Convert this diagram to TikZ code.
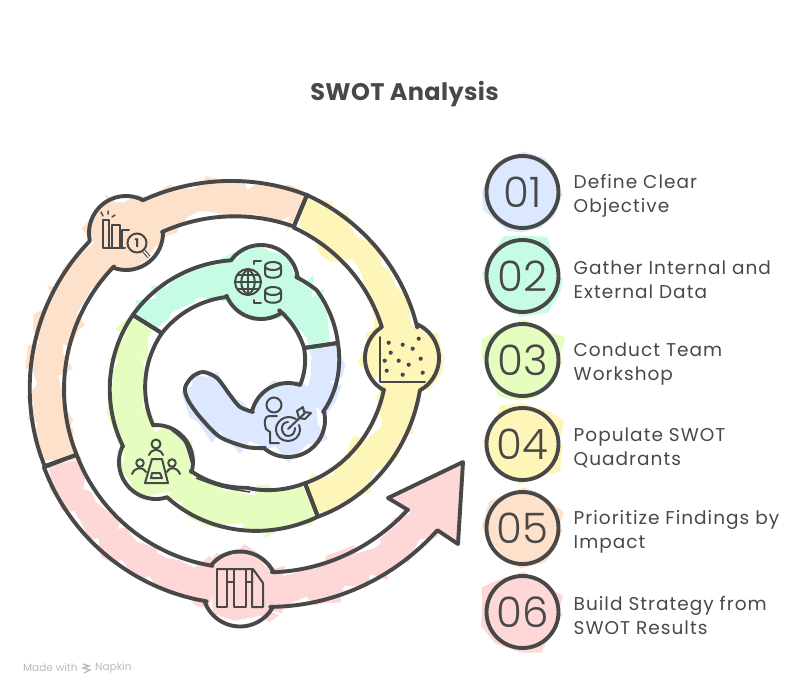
\documentclass[tikz,border=0pt]{standalone}
\usepackage{fontspec}
\setmainfont{Poppins}
\newfontfamily\numfont{Poppins Light}
\newfontfamily\stepfont[LetterSpace=5.5]{Poppins}
\newfontfamily\titlefont[LetterSpace=1.5]{Poppins Bold}
\usetikzlibrary{positioning,decorations.pathmorphing}

\definecolor{ink}{HTML}{484848}
\definecolor{skyfill}{HTML}{DCE8FF}
\definecolor{mintfill}{HTML}{C6FCE4}
\definecolor{limefill}{HTML}{E5FDBE}
\definecolor{sunfill}{HTML}{FEF6B9}
\definecolor{peachfill}{HTML}{FEE1CA}
\definecolor{rosefill}{HTML}{FED7D7}

% centre x, centre y, start angle, end angle, start radius, end radius
\newcommand{\cleanturn}[6]{-- plot[smooth, domain=#3:#4, samples=18] ({#1+(#5+(#6-#5)*(\x-#3)/(#4-#3))*cos(\x)},{#2-(#5+(#6-#5)*(\x-#3)/(#4-#3))*sin(\x)})}
\newcommand{\roughturn}[6]{-- plot[domain=#3:#4, samples={max(3,int(abs(#4-#3)*#5*0.0175/10))}] ({#1+(#5+(#6-#5)*(\x-#3)/(#4-#3))*cos(\x)+8.5*rand},{#2-(#5+(#6-#5)*(\x-#3)/(#4-#3))*sin(\x)+8.5*rand})}
\newcommand{\cleantail}{-- plot[smooth] coordinates {(265,448) (247,447) (220,437) (200,417) (188,400) (185,388) (192,377) (203,372) (217,378) (230,395) (240,407) (253,412)}}
\newcommand{\roughtail}{-- (265,448) -- (250,441) -- (240,454) -- (220,432) -- (212,443) -- (197,421) -- (190,418) -- (181,392) -- (193,385) -- (190,373) -- (206,377) -- (218,372) -- (232,400) -- (240,400) -- (253,412)}
\let\turn\cleanturn
\let\tailcurve\cleantail

% Band outlines
\newcommand{\rosepath}{(45,466) \turn{240}{392}{201}{261}{210}{212}
    \turn{240}{589}{201}{329}{37.5}{37.5}
    \turn{240}{392}{278}{325}{217}{241}
    -- (458,544) -- (463,462) -- (388,498) -- (408,510)
    \turn{240}{392}{325}{280}{205}{183}
    \turn{240}{589}{28}{139}{37.5}{37.5}
    \turn{240}{392}{261}{201}{176}{175} -- cycle}
\newcommand{\peachpath}{(307,195) \turn{240}{392}{71}{117}{208}{215}
    \turn{126}{233}{63}{191}{37}{37}
    \turn{240}{392}{135}{201}{213}{209}
    \turn{240}{392}{201}{135}{175}{178}
    \turn{126}{233}{249}{361}{37}{37}
    \turn{240}{392}{116}{72}{178}{174} -- cycle}
\newcommand{\sunpath}{(307,195) \turn{240}{392}{71}{20}{208}{188.6}
    \turn{402}{358}{64}{-60}{37}{37}
    \turn{240}{392}{0.6}{-58}{180}{147}
    \turn{240}{392}{-54.5}{1}{112}{144}
    \turn{402}{358}{241}{123}{37}{37}
    \turn{240}{392}{24.6}{72}{156}{173} -- cycle}
\newcommand{\limepath}{(133,315) \turn{240}{392}{144}{205}{132}{129}
    \turn{156}{462}{155}{287}{37}{37}
    \turn{240}{392}{235}{302}{128}{147}
    \turn{240}{392}{305.5}{274}{112}{96}
    \turn{240}{392}{274}{238}{96}{93}
    \turn{156}{462}{-16}{94}{37}{37}
    \turn{240}{392}{201}{143}{93}{97.8} -- cycle}
\newcommand{\mintpath}{(133,315) \turn{240}{392}{144}{94}{132}{132}
    \turn{261}{282}{144}{8}{37}{37}
    \turn{240}{392}{64}{53}{128}{127.5}
    \turn{240}{392}{53}{26.6}{127.5}{109.5}
    \turn{240}{392}{34.5}{64.6}{77.7}{90.8}
    \turn{261}{282}{303}{202}{37}{37}
    \turn{240}{392}{99}{143}{96}{97.8} -- cycle}
\newcommand{\skypath}{(338,343) \turn{240}{392}{26.6}{-13.5}{109.5}{85.4}
    \turn{288}{420}{13}{-129}{37}{37}
    \tailcurve
    \turn{288}{420}{167}{71}{37}{37}
    \turn{240}{392}{6.6}{34.5}{60.4}{77.7} -- cycle}

\tikzset{
    roughdisc/.style={preaction={fill=#1, decorate, decoration={random steps, segment length=19pt, amplitude=7pt}}},
    band/.style={draw=ink, line width=3.9pt, line join=round},
    numdisc/.style={circle, draw=ink, line width=3.9pt, minimum size=72pt, inner sep=0pt, outer sep=0pt, text=ink, font=\numfont\fontsize{42}{42}\selectfont, roughdisc=#1},
    steptext/.style={anchor=west, align=left, text=ink, inner sep=0pt, yshift=-4pt, font=\stepfont\fontsize{18.5}{24}\selectfont},
    iconline/.style={draw=ink, line width=2pt, line join=round, line cap=round},
}

\begin{document}
\begin{tikzpicture}[x=1pt, y=-1pt, node distance=12pt]
    \useasboundingbox (0,0) rectangle (811,697);
    \pgfmathsetseed{11}

    % Title
    \node[text=ink, font=\titlefont\fontsize{24}{28}\selectfont] (title) at (404.5,94) {SWOT Analysis};

    % Rough colour under the bands
    \begingroup
    \let\turn\roughturn
    \let\tailcurve\roughtail
    \fill[rosefill] \rosepath;
    \fill[peachfill] \peachpath;
    \fill[sunfill] \sunpath;
    \fill[limefill] \limepath;
    \fill[mintfill] \mintpath;
    \fill[skyfill] \skypath;
    \endgroup

    % Band outlines
    \draw[band] \rosepath;
    \draw[band] \peachpath;
    \draw[band] \sunpath;
    \draw[band] \limepath;
    \draw[band] \mintpath;
    \draw[band] \skypath;
    \draw[ink, line width=2.4pt] plot[smooth] coordinates {(172,430) (185,442) (192,463)};
    \draw[ink, line width=1.6pt] plot[smooth] coordinates {(196,478) (222,487) (250,492)};

    % Chart icon
    \draw[iconline] (103,220) -- (103,248) -- (125,248);
    \draw[iconline] (103,220) -- (109,220) -- (109,248);
    \draw[iconline] (112,248) -- (112,225) -- (120,225) -- (120,248);
    \draw[iconline] (122,248) -- (122,230) -- (129,230);
    \draw[iconline, line width=1.5pt] (103,216) -- (101,212) (108,214) -- (108,211) (112,217) -- (115,215);
    \coordinate (lensend) at (149,257);
    \coordinate (lensmid) at (137,243);
    \draw[ink, line width=3.6pt] (lensmid) -- (lensend);
    \draw[white, line width=1.4pt] (lensmid) -- (lensend);
    \node[circle, draw=ink, line width=2pt, fill=peachfill, minimum size=19pt, inner sep=0pt, text=ink, font=\bfseries\fontsize{12}{12}\selectfont] (lens) at (lensmid) {1};

    % Globe and data icon
    \node[circle, draw=ink, line width=2pt, minimum size=26pt, inner sep=0pt] (globe) at (248,282) {};
    \draw[iconline] (235,282) -- (261,282) (237,275) -- (259,275) (237,289) -- (259,289) (248,269) -- (248,295);
    \draw[iconline] (248,269) .. controls (239,275) and (239,289) .. (248,295) .. controls (257,289) and (257,275) .. (248,269);
    \draw[iconline] (261,261) -- (254,261) -- (254,264) (254,300) -- (254,303) -- (261,303);
    \foreach \cy in {262,287} {
        \draw[iconline] (273,\cy+4) circle[x radius=8pt, y radius=4pt];
        \draw[iconline] (265,\cy+4) -- (265,\cy+12) .. controls (266,\cy+17) and (280,\cy+17) .. (281,\cy+12) -- (281,\cy+4);
    }

    % Dots icon
    \draw[iconline] (380,337) -- (380,382) -- (425,382);
    \foreach \dotx/\doty in {388.7/342.7, 402.7/344.7, 418.7/338.7, 390.7/352.7, 412.7/348.7, 384.7/360.7, 398.7/360.7, 408.7/364.7, 420.7/358.7, 386.7/370.7, 402.7/374.7, 422.7/372.7}
        \fill[ink] (\dotx,\doty) circle[radius=2.1pt];

    % Meeting icon
    \draw[iconline] (156,444) circle[radius=4.5pt];
    \draw[iconline] (149,455) .. controls (152,448) and (160,448) .. (163,455);
    \draw[iconline] (152,459) -- (162,459) -- (168,483) -- (145,483) -- cycle;
    \draw[iconline] (152,473) -- (160,473) -- (162,478) -- (151,478) -- cycle;
    \draw[iconline] (140,463) circle[radius=3.8pt] (172,463) circle[radius=3.8pt];
    \draw[iconline] (132,474) .. controls (135,467) and (142,466) .. (146,472);
    \draw[iconline] (180,474) .. controls (177,467) and (170,466) .. (167,472);

    % Person and target icon
    \draw[iconline] (274,405) circle[radius=7.5pt];
    \draw[iconline] (277,416) -- (269,416) .. controls (264,416) and (264,424) .. (266,429) -- (270,432) -- (270,443) -- (279,443);
    \draw[iconline] (296,419) .. controls (285,413) and (276,422) .. (276,429) .. controls (276,445) and (300,445) .. (300,429) -- (299,425);
    \draw[iconline] (288,422) .. controls (279,422) and (281,436) .. (288,436) .. controls (293,436) and (295,432) .. (295,428);
    \draw[iconline] (288,429) -- (305,413);
    \draw[iconline] (297,411) -- (303,407) -- (304,412) -- (311,413) -- (305,419) -- (299,418) -- cycle;

    % Documents icon
    \draw[iconline] (217,569) -- (253,569) -- (263,583) -- (263,607) -- (252,607) -- (252,569);
    \draw[iconline] (217,569) -- (217,607) -- (227,607) -- (227,569);
    \draw[iconline] (234,569) -- (234,607) -- (246,607) -- (246,569);
    \draw[iconline] (227,582) -- (234,582) (246,582) -- (252,582);

    % Numbered list
    \node[numdisc=skyfill] (num1) at (522.5,192) {01};
    \node[numdisc=mintfill, below=of num1] (num2) {02};
    \node[numdisc=limefill, below=of num2] (num3) {03};
    \node[numdisc=sunfill, below=of num3] (num4) {04};
    \node[numdisc=peachfill, below=of num4] (num5) {05};
    \node[numdisc=rosefill, below=of num5] (num6) {06};

    \node[steptext, right=15pt of num1] (text1) {Define Clear\\Objective};
    \node[steptext, right=15pt of num2] (text2) {Gather Internal and\\External Data};
    \node[steptext, right=15pt of num3] (text3) {Conduct Team\\Workshop};
    \node[steptext, right=15pt of num4] (text4) {Populate SWOT\\Quadrants};
    \node[steptext, right=15pt of num5] (text5) {Prioritize Findings by\\Impact};
    \node[steptext, right=15pt of num6] (text6) {Build Strategy from\\SWOT Results};

    % Footer
    \node[anchor=west, inner sep=0pt, text=black!28, font=\fontsize{10.5}{12}\selectfont] (made) at (23,668) {Made with};
    \node[anchor=west, inner sep=0pt, text=black!28, font=\fontsize{10.5}{12}\selectfont] (napkin) at (95,668) {Napkin};
    \draw[black!28, line width=1.3pt] (83,664) -- (89,666) -- (83,668) -- (90,670) -- (84,673);
\end{tikzpicture}
\end{document}
